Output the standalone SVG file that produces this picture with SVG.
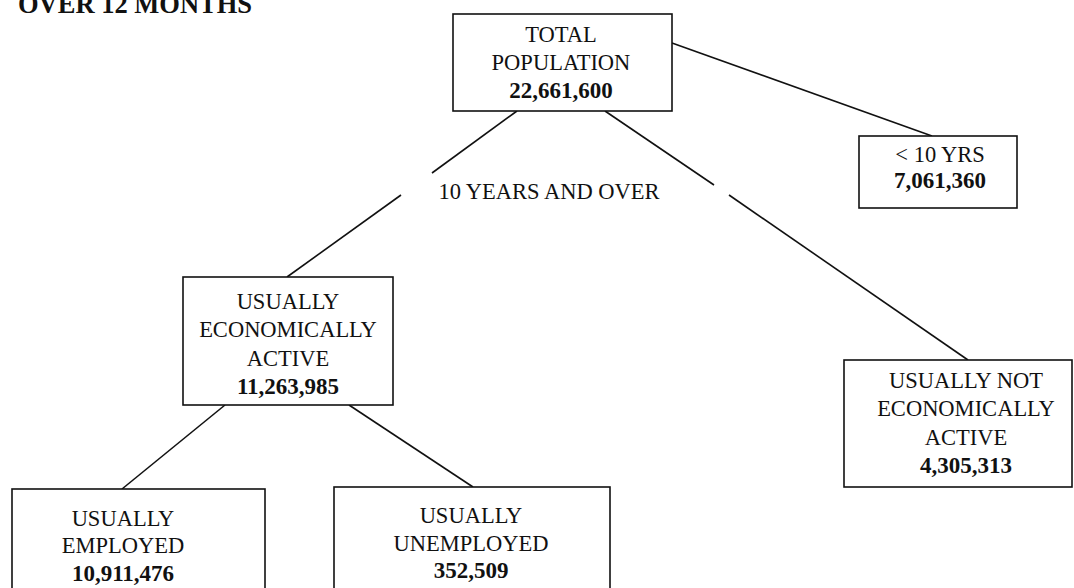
<svg xmlns="http://www.w3.org/2000/svg" width="1074" height="588" viewBox="0 0 1074 588">
<style>
text{font-family:"Liberation Serif","Times New Roman",serif;font-size:22.5px;fill:#111;text-anchor:middle}
.b{font-weight:bold;font-size:23px}
.t{font-weight:bold;font-size:26.5px;text-anchor:start}
rect{fill:#fff;stroke:#111;stroke-width:1.6}
line{stroke:#111;stroke-width:1.6}
</style>
<rect x="0" y="0" width="1074" height="588" style="stroke:none;fill:#fff"/>
<text class="t" x="18" y="13">OVER 12 MONTHS</text>
<g id="connectors">
<line x1="672" y1="43" x2="932" y2="136"/>
<line x1="517" y1="111" x2="432" y2="173"/>
<line x1="401" y1="195" x2="287" y2="277"/>
<line x1="605" y1="111" x2="714" y2="185"/>
<line x1="729" y1="195" x2="968" y2="360"/>
<line x1="225" y1="405" x2="122" y2="489"/>
<line x1="349" y1="405" x2="473" y2="487"/>
</g>
<text x="549" y="199">10 YEARS AND OVER</text>
<g id="total">
<rect x="453" y="14" width="219" height="97"/>
<text x="561" y="42">TOTAL</text>
<text x="561" y="70">POPULATION</text>
<text class="b" x="561" y="98">22,661,600</text>
</g>
<g id="under10">
<rect x="859" y="136" width="158" height="72"/>
<text x="940" y="162">&lt; 10 YRS</text>
<text class="b" x="940" y="188">7,061,360</text>
</g>
<g id="active">
<rect x="183" y="277" width="210" height="128"/>
<text x="288" y="309">USUALLY</text>
<text x="288" y="337">ECONOMICALLY</text>
<text x="288" y="366">ACTIVE</text>
<text class="b" x="288" y="394">11,263,985</text>
</g>
<g id="notactive">
<rect x="844" y="360" width="228" height="127"/>
<text x="966" y="388">USUALLY NOT</text>
<text x="966" y="416">ECONOMICALLY</text>
<text x="966" y="445">ACTIVE</text>
<text class="b" x="966" y="473">4,305,313</text>
</g>
<g id="employed">
<rect x="12" y="489" width="253" height="120"/>
<text x="123" y="526">USUALLY</text>
<text x="123" y="553">EMPLOYED</text>
<text class="b" x="123" y="581">10,911,476</text>
</g>
<g id="unemployed">
<rect x="334" y="487" width="276" height="120"/>
<text x="471" y="523">USUALLY</text>
<text x="471" y="551">UNEMPLOYED</text>
<text class="b" x="471" y="578">352,509</text>
</g>
</svg>
